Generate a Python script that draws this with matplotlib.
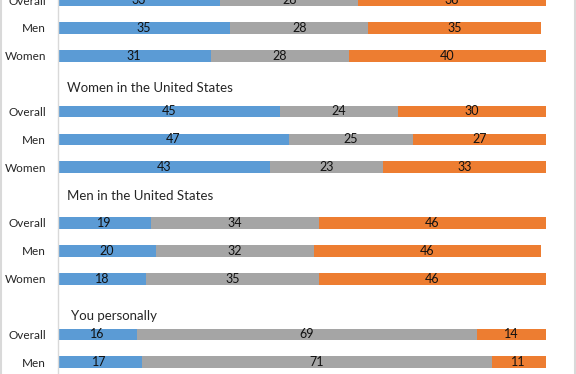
import matplotlib
matplotlib.use("Agg")
import matplotlib.pyplot as plt
from matplotlib.lines import Line2D

plt.rcParams['font.family'] = ['Lato', 'DejaVu Sans']

# Data (percent): Agree-ish (blue), Neutral (gray), Disagree (orange)
groups = ["", "Women in the United States", "Men in the United States", "You personally"]
row_labels = ["Overall", "Men", "Women",
              "Overall", "Men", "Women",
              "Overall", "Men", "Women",
              "Overall", "Men"]
blue_vals = [33, 35, 31, 45, 47, 43, 19, 20, 18, 16, 17]
gray_vals = [28, 28, 28, 24, 25, 23, 34, 32, 35, 69, 71]
orange_vals = [38, 35, 40, 30, 27, 33, 46, 46, 46, 14, 11]
# slot index of each row (one empty slot before each group title)
slots = [0, 1, 2, 4, 5, 6, 8, 9, 10, 12, 13]
title_pos = [(3.15, "Women in the United States"),
             (7.05, "Men in the United States"),
             (11.35, "You personally")]

colors = ["#5B9BD5", "#A5A5A5", "#ED7D31"]

W, H = 576, 374
fig = plt.figure(figsize=(W / 100, H / 100), dpi=100)
ax_left = 57.7 / W
ax_right = 550.7 / W
ax = fig.add_axes([ax_left, 0, ax_right - ax_left, 1])

slot_h = 28.2
k_top = 1 - 23.8 / slot_h
k_bot = 1 + (H - 23.8) / slot_h
ax.set_ylim(k_bot, k_top)
ax.set_xlim(0, 100)

bh = 0.42
lefts = [0] * len(slots)
for vals, c in zip([blue_vals, gray_vals, orange_vals], colors):
    ax.barh(slots, vals, left=lefts, height=bh, color=c, edgecolor='none')
    for y, l, v in zip(slots, lefts, vals):
        ax.text(l + v / 2, y, str(v), ha='center', va='center',
                fontsize=9, color='#111111', clip_on=False)
    lefts = [l + v for l, v in zip(lefts, vals)]

for y, t in title_pos:
    ax.text(1.9 if "You" not in t else 2.6, y, t, ha='left', va='center',
            fontsize=9.5, color='#262626')

ax.set_yticks(slots)
ax.set_yticklabels(row_labels, fontsize=8.5, color='#262626')
ax.tick_params(axis='y', length=0, pad=8.5)
ax.set_xticks([])
for s in ['top', 'right', 'bottom']:
    ax.spines[s].set_visible(False)
ax.spines['left'].set_color('#D9D9D9')
ax.spines['left'].set_linewidth(1.0)

# outer chart border (left and right edges)
fig.add_artist(Line2D([0.5 / W, 0.5 / W], [0, 1], color='#D9D9D9', lw=1.5,
                      transform=fig.transFigure))
fig.add_artist(Line2D([1 - 1.5 / W, 1 - 1.5 / W], [0, 1], color='#D9D9D9', lw=1.5,
                      transform=fig.transFigure))

fig.savefig("out.png", dpi=100)
